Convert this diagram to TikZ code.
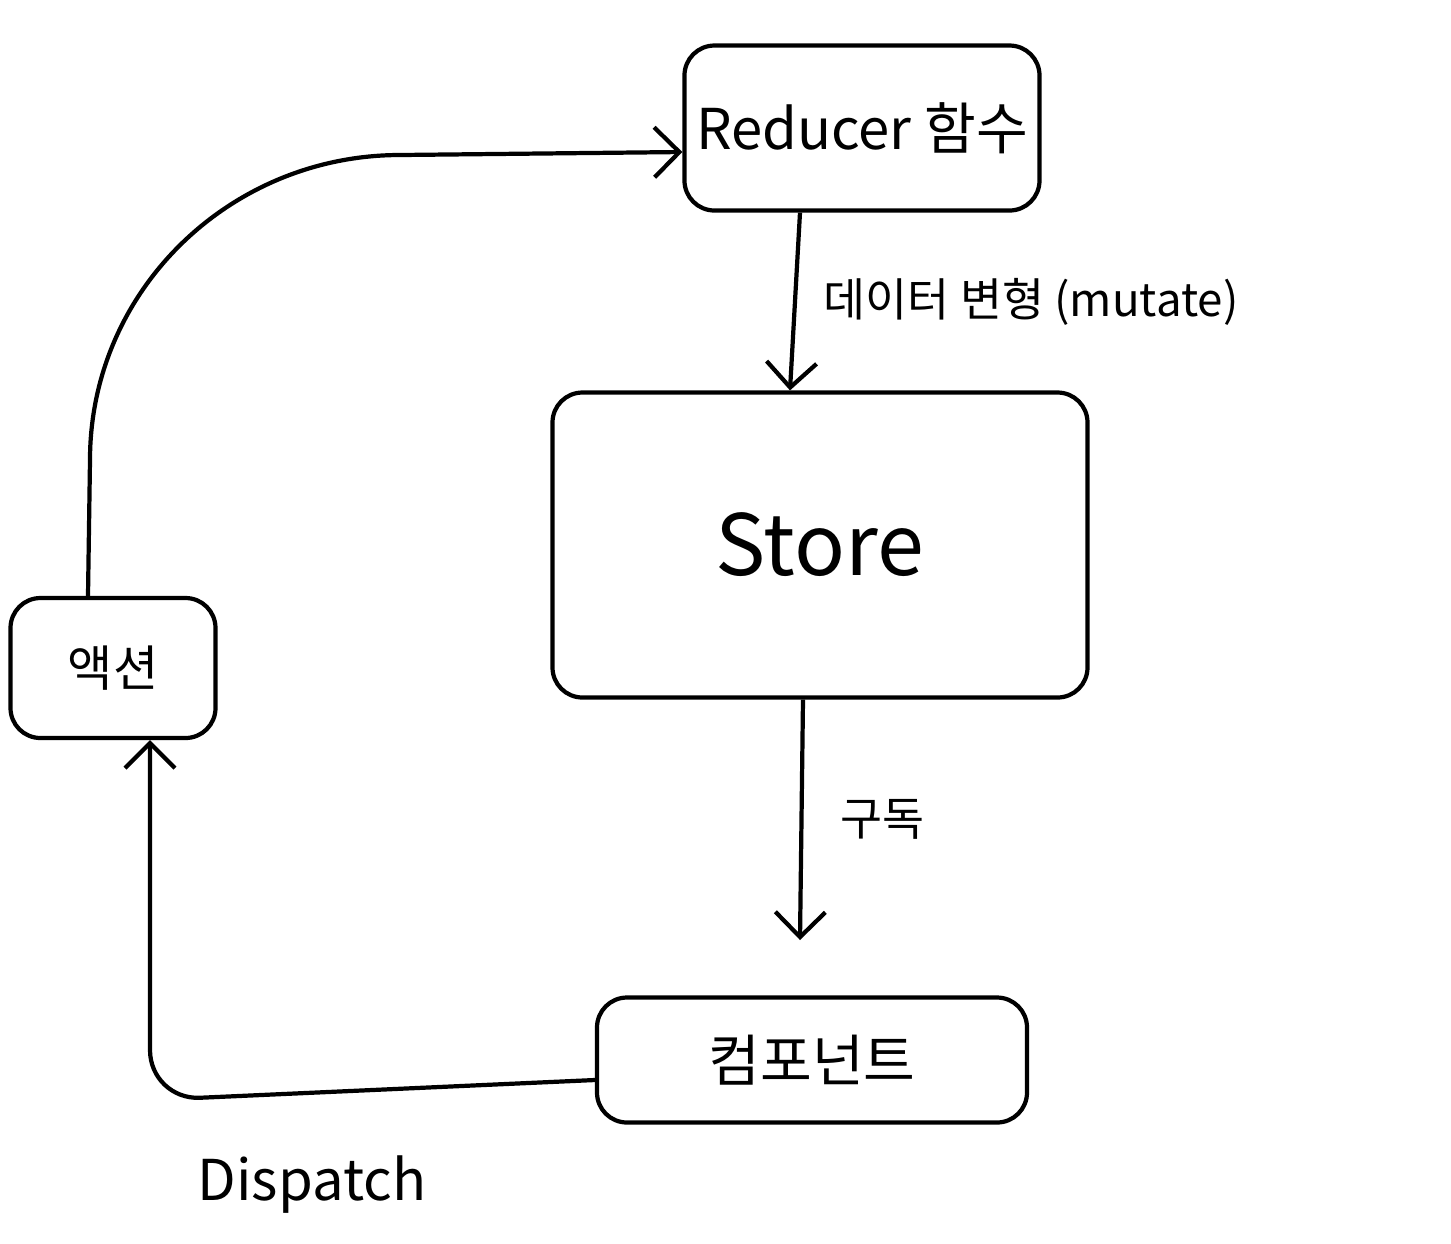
\documentclass[tikz,border=0pt]{standalone}
\usepackage{fontspec}
\setmainfont{Noto Sans CJK KR}
\usetikzlibrary{arrows.meta}

\begin{document}
\begin{tikzpicture}[line width=1.2pt,>={Straight Barb[length=2.5mm,width=5mm]},
		box/.style={draw,rounded corners=3mm,align=center},
		lbl/.style={font=\fontsize{13}{15}\selectfont}]
			\useasboundingbox (0,0) rectangle (14.51,-12.43);
			\node[box,minimum width=3.3cm,minimum height=1.65cm,font=\fontsize{16}{19}\selectfont] (reducer) at (8.62,-1.28) {Reducer 함수};
			\node[box,minimum width=5.35cm,minimum height=3.05cm,font=\fontsize{24}{28}\selectfont] (store) at (8.20,-5.45) {Store};
			\node[box,minimum width=4.3cm,minimum height=1.25cm,font=\fontsize{16}{19}\selectfont] (comp) at (8.12,-10.60) {컴포넌트};
			\node[box,minimum width=2.05cm,minimum height=1.4cm,font=\fontsize{14}{16}\selectfont] (action) at (1.13,-6.68) {액션};
			\coordinate (sub) at (8.00,-9.40);
			\draw[->] ([xshift=-6.2mm]reducer.south) -- ([xshift=-3mm]store.north)
				node[lbl,midway,right=1.5mm] (mutate) {데이터 변형 (mutate)};
			\draw[->] ([xshift=-1.7mm]store.south) -- (sub)
				node[lbl,midway,right=2.5mm] (subs) {구독};
			\draw[->,rounded corners=5mm] ([yshift=-2mm]comp.west) -- (1.50,-11.0) -- ([xshift=3.7mm]action.south);
			\node[font=\fontsize{16}{19}\selectfont] (dispatch) at (3.12,-11.85) {Dispatch};
			\draw[->] ([xshift=-2.5mm]action.north) -- (0.90,-4.60) to[out=90,in=180] (4.00,-1.55) -- ([yshift=-2.4mm]reducer.west);
		\end{tikzpicture}
\end{document}
